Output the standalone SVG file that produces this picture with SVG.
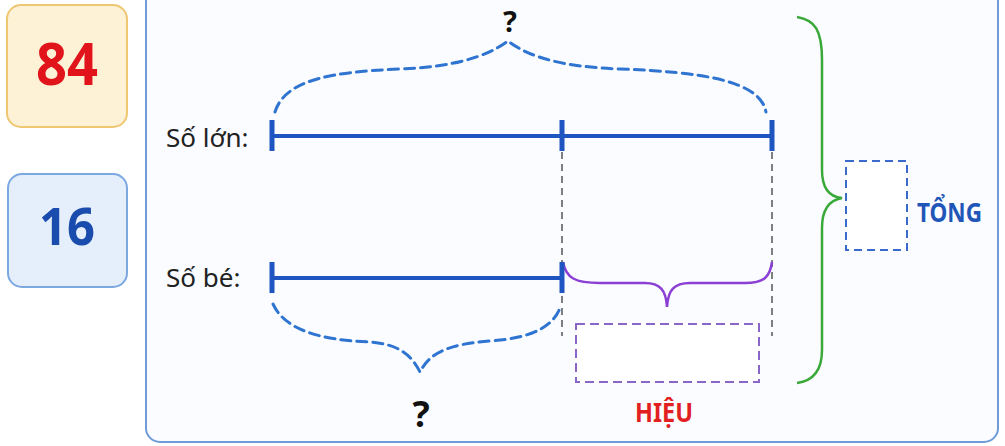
<svg xmlns="http://www.w3.org/2000/svg" width="1005" height="446" viewBox="0 0 1005 446">
<style>
.lbl{font-family:"Noto Sans","Open Sans",sans-serif;font-size:26px;fill:#222}
.q{font-family:"Noto Sans","Open Sans",sans-serif;font-size:36px;font-weight:bold;fill:#111;text-anchor:middle}
.bar{stroke:#1f55c0;stroke-width:4;fill:none}
.tick{stroke:#1f55c0;stroke-width:5;fill:none}
.guide{stroke:#555;stroke-width:1.5;stroke-dasharray:7 5;fill:none}
.dbrace{stroke:#2f74d0;stroke-width:3;stroke-dasharray:10 6;fill:none;stroke-linecap:round}
</style>
<rect width="1005" height="446" fill="#ffffff"/>
<g id="panel"><rect x="146" y="-20" width="852" height="462" rx="14" fill="#fafcff" stroke="#6f9bd8" stroke-width="2"/></g>
<g id="box84">
<rect x="7" y="5" width="120" height="122" rx="14" fill="#fdf1d6" stroke="#efc672" stroke-width="2"/>
<text x="67" y="85" text-anchor="middle" font-family="Noto Sans,Open Sans,sans-serif" font-size="60" font-weight="bold" fill="#e0141a" textLength="62" lengthAdjust="spacingAndGlyphs">84</text>
</g>
<g id="box16">
<rect x="8" y="174" width="119" height="113" rx="14" fill="#e5effb" stroke="#7ca8e2" stroke-width="2"/>
<text x="67" y="245" text-anchor="middle" font-family="Noto Sans,Open Sans,sans-serif" font-size="52" font-weight="bold" fill="#1a4cae" textLength="56" lengthAdjust="spacingAndGlyphs">16</text>
</g>
<g id="connectors">
<line class="guide" x1="562" y1="152" x2="562" y2="336"/>
<line class="guide" x1="772" y1="152" x2="772" y2="336"/>
<path class="dbrace" d="M275,112 C285,80 330,72 400,69 C450,67 485,58 508,41 C530,58 565,67 620,69 C700,72 760,80 766,112"/>
<path class="dbrace" d="M273,304 C285,330 320,340 370,342 C395,344 410,352 420,372 C430,352 450,344 490,341 C535,338 555,325 561,305"/>
<path d="M563,262 C566,278 575,283 600,283 L645,283 C660,283 666,290 667,307 C668,290 674,283 690,283 L745,283 C765,283 770,276 772,262" fill="none" stroke="#8b3fd4" stroke-width="2.5"/>
<path d="M797,17 C815,20 822,30 822,60 L822,170 C822,190 830,197 842,198 C830,200 822,208 822,228 L822,350 C822,372 812,381 797,383" fill="none" stroke="#3ba83a" stroke-width="2.5"/>
</g>
<g id="solon">
<text class="lbl" x="166" y="147">Số lớn:</text>
<line class="bar" x1="272" y1="136" x2="772" y2="136"/>
<line class="tick" x1="272" y1="120" x2="272" y2="151"/>
<line class="tick" x1="562" y1="120" x2="562" y2="151"/>
<line class="tick" x1="772" y1="120" x2="772" y2="151"/>
</g>
<g id="sobe">
<text class="lbl" x="166" y="287">Số bé:</text>
<line class="bar" x1="272" y1="278" x2="562" y2="278"/>
<line class="tick" x1="272" y1="262" x2="272" y2="293"/>
<line class="tick" x1="562" y1="262" x2="562" y2="293"/>
</g>
<g id="q-top"><text class="q" x="510" y="32" style="font-size:29px">?</text></g>
<g id="q-bottom"><text class="q" x="421" y="427">?</text></g>
<g id="hieu">
<rect x="576" y="324" width="183" height="58" fill="#ffffff" stroke="#8a66c8" stroke-width="2" stroke-dasharray="9 5"/>
<text x="664" y="422" text-anchor="middle" font-family="Noto Sans,Open Sans,sans-serif" font-size="26" font-weight="bold" fill="#e1201f" textLength="58" lengthAdjust="spacingAndGlyphs">HIỆU</text>
</g>
<g id="tong">
<rect x="846" y="161" width="61" height="89" fill="#ffffff" stroke="#3a6acc" stroke-width="2" stroke-dasharray="8 5"/>
<text x="917" y="222" font-family="Noto Sans,Open Sans,sans-serif" font-size="26" font-weight="bold" fill="#1f56b8" textLength="65" lengthAdjust="spacingAndGlyphs">TỔNG</text>
</g>
</svg>
